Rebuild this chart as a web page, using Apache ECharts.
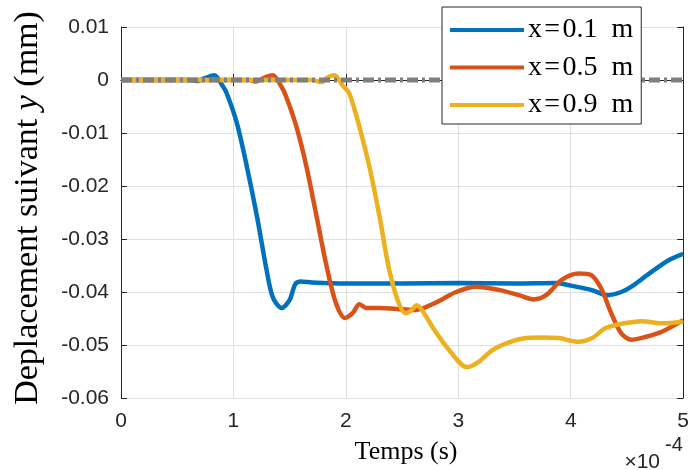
<!DOCTYPE html>
<html>
<head>
<meta charset="utf-8">
<script src="https://cdn.jsdelivr.net/npm/echarts@6/dist/echarts.min.js"></script>
<style>html,body{margin:0;padding:0;background:#fff}#c{width:692px;height:470px}</style>
</head>
<body>
<div id="c"></div>
<script>
// time in units of 1e-4 s, displacement in mm
const seriesNames = ['x=0.1 m', 'x=0.5 m', 'x=0.9 m'];
const tBlue = [0,0.6,0.68,0.75,0.83,0.9,0.94,1.03,1.12,1.21,1.29,1.35,1.43,1.5,1.55,1.6,1.7,2.0,2.5,3.0,3.5,3.87,4.0,4.18,4.33,4.45,4.54,4.7,4.87,5.0];
const yBlue = [0,0,-0.0002,0.0004,0.0009,-0.001,-0.0025,-0.0081,-0.0164,-0.0258,-0.0353,-0.041,-0.043,-0.0415,-0.0385,-0.038,-0.0382,-0.0384,-0.0384,-0.0383,-0.0384,-0.0383,-0.0388,-0.0396,-0.0406,-0.04,-0.039,-0.0365,-0.034,-0.0328];
const tRed = [0,1.15,1.2,1.28,1.35,1.42,1.47,1.56,1.65,1.74,1.83,1.91,1.99,2.06,2.12,2.18,2.3,2.45,2.62,2.8,2.98,3.16,3.36,3.54,3.67,3.78,3.92,4.07,4.18,4.27,4.36,4.45,4.54,4.66,4.81,5.0];
const yRed = [0,0,-0.0003,0.0005,0.0009,-0.001,-0.0032,-0.0088,-0.0164,-0.0258,-0.0353,-0.042,-0.0449,-0.044,-0.0423,-0.043,-0.043,-0.0432,-0.0434,-0.042,-0.04,-0.039,-0.0396,-0.0406,-0.0414,-0.0406,-0.0377,-0.0365,-0.0368,-0.0393,-0.044,-0.0478,-0.049,-0.0485,-0.0475,-0.0453];
const tYellow = [0,1.7,1.78,1.84,1.9,1.97,2.03,2.12,2.21,2.3,2.38,2.46,2.53,2.58,2.63,2.68,2.77,2.92,3.08,3.18,3.3,3.45,3.6,3.74,3.89,4.07,4.19,4.31,4.45,4.63,4.81,5.0];
const yYellow = [0,0,-0.0004,0.0005,0.0009,-0.001,-0.0025,-0.0088,-0.0164,-0.0258,-0.0353,-0.0415,-0.044,-0.0435,-0.0425,-0.0435,-0.0466,-0.051,-0.0542,-0.0532,-0.051,-0.0495,-0.0487,-0.0486,-0.0487,-0.0494,-0.0487,-0.0468,-0.046,-0.0455,-0.0459,-0.0456];
const tZero = [0, 5];
const yZero = [0, 0];
const xTicks = [0,1,2,3,4,5];
const yTickLabels = ['-0.06','-0.05','-0.04','-0.03','-0.02','-0.01','0','0.01'];

const zip = (a, b) => a.map((v, i) => [v, b[i]]);
const colors = ['#0072BD', '#D95319', '#EDB120'];
const axisColor = '#262626';
const sans = 'Liberation Sans';
const serif = 'Liberation Serif';

const chart = echarts.init(document.getElementById('c'), null, {renderer: 'canvas'});
const fmtY = v => {
  const r = Math.round(v * 100);
  const idx = r + 6;
  return yTickLabels[idx] !== undefined ? yTickLabels[idx] : String(r / 100);
};
const baseX = {type: 'value', min: 0, max: 5, interval: 1,
  axisLine: {show: true, lineStyle: {color: axisColor, width: 1}},
  axisTick: {show: true, inside: true, length: 6, lineStyle: {color: axisColor}}};
const baseY = {type: 'value', min: -0.06, max: 0.01, interval: 0.01,
  axisLine: {show: true, onZero: false, lineStyle: {color: axisColor, width: 1}},
  axisTick: {show: true, inside: true, length: 6, lineStyle: {color: axisColor}}};

const option = {
  animation: false,
  backgroundColor: '#fff',
  grid: {left: 121, right: 7, top: 27, bottom: 72, containLabel: false},
  legend: {
    data: seriesNames,
    formatter: n => n.replace('=', '\u200A=\u200A').replace(' m', '\u2002m'),
    orient: 'vertical', left: 442, top: 7,
    icon: 'rect', itemWidth: 74, itemHeight: 4, itemGap: 9.5,
    padding: [9, 8, 5, 8],
    backgroundColor: '#fff', borderColor: axisColor, borderWidth: 1,
    textStyle: {fontFamily: serif, fontSize: 28, color: '#000', lineHeight: 26, padding: [0,0,0,-1]},
    z: 10
  },
  xAxis: [
    Object.assign({}, baseX, {position: 'bottom',
      axisLabel: {fontFamily: sans, fontSize: 21, color: axisColor, margin: 13,
        formatter: v => String(xTicks[Math.round(v)])},
      splitLine: {show: true, lineStyle: {color: '#dfdfdf', width: 1}}}),
    Object.assign({}, baseX, {position: 'top', axisLabel: {show: false}, splitLine: {show: false}})
  ],
  yAxis: [
    Object.assign({}, baseY, {position: 'left',
      axisLabel: {fontFamily: sans, fontSize: 21, color: axisColor, margin: 12, formatter: fmtY},
      splitLine: {show: true, lineStyle: {color: '#dfdfdf', width: 1}}}),
    Object.assign({}, baseY, {position: 'right', axisLabel: {show: false}, splitLine: {show: false}})
  ],
  series: [
    {name: seriesNames[0], type: 'line', data: zip(tBlue, yBlue), smooth: 0.3, showSymbol: false,
      lineStyle: {color: colors[0], width: 4.5}, itemStyle: {color: colors[0]}, z: 2},
    {name: seriesNames[1], type: 'line', data: zip(tRed, yRed), smooth: 0.3, showSymbol: false,
      lineStyle: {color: colors[1], width: 4.5}, itemStyle: {color: colors[1]}, z: 3},
    {name: seriesNames[2], type: 'line', data: zip(tYellow, yYellow), smooth: 0.3, showSymbol: false,
      lineStyle: {color: colors[2], width: 4.5}, itemStyle: {color: colors[2]}, z: 4},
    {name: 'zero', type: 'line', data: zip(tZero, yZero), showSymbol: false, silent: true,
      lineStyle: {color: '#7f7f7f', width: 5, type: [11, 4, 3, 4], cap: 'butt'}, z: 6}
  ],
  graphic: [
    {type: 'text', x: 28, y: 208, rotation: Math.PI / 2,
      style: {text: '{r|Deplacement suivant }{i|y}{r| (mm)}', align: 'center', verticalAlign: 'middle',
        rich: {r: {fontFamily: serif, fontSize: 34, fill: '#000'}, i: {fontFamily: serif, fontStyle: 'italic', fontSize: 34, fill: '#000'}}}},
    {type: 'text', x: 406, y: 452,
      style: {text: 'Temps (s)', fontFamily: serif, fontSize: 26, fill: '#000', align: 'center', verticalAlign: 'middle'}},
    {type: 'text', x: 660, y: 462,
      style: {text: '×10', fontFamily: sans, fontSize: 21, fill: axisColor, align: 'right', verticalAlign: 'middle'}},
    {type: 'text', x: 665, y: 445,
      style: {text: '-4', fontFamily: sans, fontSize: 20, fill: axisColor, align: 'left', verticalAlign: 'middle'}}
  ]
};
chart.setOption(option);
</script>
</body>
</html>
